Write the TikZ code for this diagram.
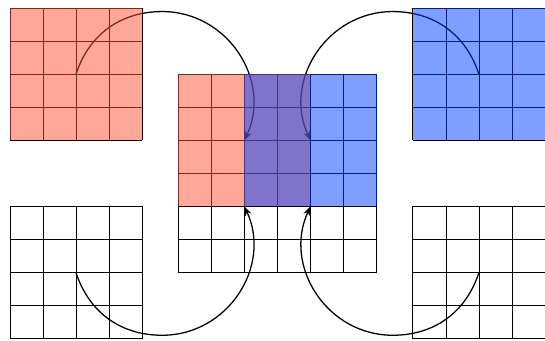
\documentclass[tikz,border=0pt]{standalone}
\usepackage{tikz}
\usetikzlibrary{arrows.meta}
\definecolor{CvRed}{RGB}{255,80,50}
\definecolor{CvBlue}{RGB}{0,64,255}
\tikzset{
  cv/grid/.style={draw=black, line width=0.7pt},
  cv/redfill/.style={fill=CvRed, fill opacity=0.5},
  cv/bluefill/.style={fill=CvBlue, fill opacity=0.5},
  cv/flow/.style={-{Stealth[length=2.8mm,width=2mm]}, line width=1.1pt, draw=black}
}

\begin{document}
\begin{tikzpicture}[x=1cm,y=1cm]
  \useasboundingbox (-0.3,-0.07) rectangle (16.2,10.25);
  % grids
  \draw[cv/grid] (0,6) grid (4,10);
  \draw[cv/grid,shift={(12.2,6)}] (0,0) grid (4,4);
  \draw[cv/grid] (0,0) grid (4,4);
  \draw[cv/grid,shift={(12.2,0)}] (0,0) grid (4,4);
  \draw[cv/grid,shift={(5.1,2)}] (0,0) grid (6,6);
  % arc ends
  \coordinate (tlc) at (2,8);
  \coordinate (tlpk) at (4.61,9.9);
  \coordinate (tipa) at (7.1,6);
  \coordinate (trc) at (14.2,8);
  \coordinate (trpk) at (11.59,9.9);
  \coordinate (tipb) at (9.1,6);
  \coordinate (blc) at (2,2);
  \coordinate (blpk) at (4.61,0.1);
  \coordinate (tipc) at (7.1,4);
  \coordinate (brc) at (14.2,2);
  \coordinate (brpk) at (11.59,0.1);
  \coordinate (tipd) at (9.1,4);
  \draw[cv/flow] (tlc) to[out=72,in=180] (tlpk) to[out=0,in=65,looseness=1.1] (tipa);
  \draw[cv/flow] (trc) to[out=108,in=0] (trpk) to[out=180,in=115,looseness=1.1] (tipb);
  \draw[cv/flow] (blc) to[out=-72,in=180] (blpk) to[out=0,in=-65,looseness=1.1] (tipc);
  \draw[cv/flow] (brc) to[out=-108,in=0] (brpk) to[out=180,in=-115,looseness=1.1] (tipd);
  % fills on top
  \fill[cv/redfill] (0,6) rectangle (4,10);
  \fill[cv/redfill] (5.1,4) rectangle (9.1,8);
  \fill[cv/bluefill] (7.1,4) rectangle (11.1,8);
  \fill[cv/bluefill] (12.2,6) rectangle (16.2,10);
\end{tikzpicture}
\end{document}
